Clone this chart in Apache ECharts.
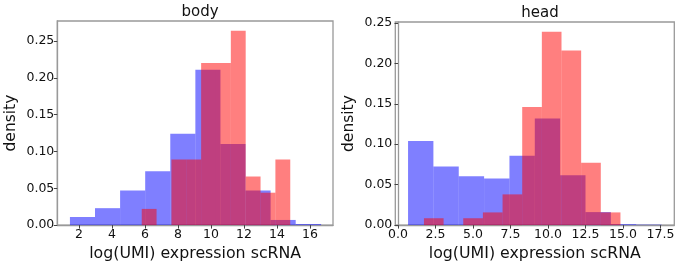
<!DOCTYPE html>
<html>
<head>
<meta charset="utf-8">
<script src="https://cdn.jsdelivr.net/npm/echarts@6/dist/echarts.min.js"></script>
<style>
    html, body { margin: 0; padding: 0; background: #fff; }
    #chart { width: 687px; height: 267px; }
</style>
</head>
<body>
<div id="chart"></div>
<script>
// Histogram bins (edges + density per bin)
const bodyBlueEdges = [1.45, 2.97, 4.49, 6.01, 7.53, 9.05, 10.57, 12.09, 13.61, 15.13, 16.67];
const bodyBlueDensity = [0.011, 0.023, 0.047, 0.073, 0.124, 0.211, 0.110, 0.047, 0.007, 0.0015];
const bodyRedEdges = [5.8, 6.7, 7.6, 8.5, 9.4, 10.3, 11.2, 12.1, 13.0, 13.9, 14.8];
const bodyRedDensity = [0.022, 0, 0.089, 0.089, 0.220, 0.220, 0.264, 0.066, 0.044, 0.089];

const headBlueEdges = [0.67, 2.36, 4.05, 5.74, 7.43, 9.12, 10.81, 12.5, 14.19, 15.88, 17.57];
const headBlueDensity = [0.104, 0.0726, 0.0605, 0.0577, 0.0859, 0.132, 0.0617, 0.0161, 0.0012, 0.0006];
const headRedEdges = [1.73, 3.04, 4.35, 5.66, 6.97, 8.28, 9.59, 10.9, 12.21, 13.52, 14.83];
const headRedDensity = [0.0085, 0, 0.0085, 0.0157, 0.038, 0.146, 0.239, 0.216, 0.077, 0.0157];

// Tick labels
const bodyXTicks = [2, 4, 6, 8, 10, 12, 14, 16];
const headXTicks = [0, 2.5, 5, 7.5, 10, 12.5, 15, 17.5];
const yTicks = [0, 0.05, 0.10, 0.15, 0.20, 0.25];

const titles = ['body', 'head'];
const xName = 'log(UMI) expression scRNA';
const yName = 'density';

const font = 'DejaVu Sans';
const blue = 'rgba(0, 0, 255, 0.5)';
const red = 'rgba(255, 0, 0, 0.5)';

const chart = echarts.init(document.getElementById('chart'), null, { renderer: 'canvas' });

function toBins(edges, density) {
    return density.map((d, i) => [edges[i], edges[i + 1], d]);
}

function renderBin(params, api) {
    const topLeft = api.coord([api.value(0), api.value(2)]);
    const bottomRight = api.coord([api.value(1), 0]);
    return {
        type: 'rect',
        shape: {
            x: topLeft[0],
            y: topLeft[1],
            width: bottomRight[0] - topLeft[0],
            height: bottomRight[1] - topLeft[1]
        },
        style: api.style()
    };
}

function xAxis(gridIndex, min, max, ticks, digits) {
    return {
        type: 'value',
        gridIndex: gridIndex,
        min: min,
        max: max,
        name: xName,
        nameLocation: 'middle',
        nameGap: 20,
        nameTextStyle: { fontFamily: font, fontSize: 15.8, color: '#111' },
        splitLine: { show: false },
        axisLine: { show: true, onZero: false, lineStyle: { color: '#999', width: 1.3 } },
        axisTick: { show: true, length: 3.5, customValues: ticks, lineStyle: { color: '#444' } },
        axisLabel: {
            customValues: ticks,
            margin: 3,
            fontFamily: font,
            fontSize: 12.5,
            color: '#111',
            formatter: (v) => v.toFixed(digits)
        }
    };
}

function yAxis(gridIndex, max) {
    return {
        type: 'value',
        gridIndex: gridIndex,
        min: 0,
        max: max,
        name: yName,
        nameLocation: 'middle',
        nameRotate: 90,
        nameGap: 38,
        nameTextStyle: { fontFamily: font, fontSize: 15.5, color: '#111' },
        splitLine: { show: false },
        axisLine: { show: true, lineStyle: { color: '#999', width: 1.3 } },
        axisTick: { show: true, length: 3.5, customValues: yTicks, lineStyle: { color: '#444' } },
        axisLabel: {
            customValues: yTicks,
            margin: 3,
            fontFamily: font,
            fontSize: 12.5,
            color: '#111',
            formatter: (v) => v.toFixed(2)
        }
    };
}

const option = {
    animation: false,
    backgroundColor: '#fff',
    title: [
        { text: titles[0], left: 195, top: 0, textAlign: 'center', textStyle: { fontFamily: font, fontSize: 15, fontWeight: 'normal', color: '#111' } },
        { text: titles[1], left: 535, top: 1, textAlign: 'center', textStyle: { fontFamily: font, fontSize: 15, fontWeight: 'normal', color: '#111' } }
    ],
    grid: [
        { left: 57.3, top: 21, width: 275.7, height: 207.5, show: true, borderColor: '#999', borderWidth: 1.3, backgroundColor: 'transparent' },
        { left: 395.3, top: 22, width: 279, height: 206.5, show: true, borderColor: '#999', borderWidth: 1.3, backgroundColor: 'transparent' }
    ],
    xAxis: [
        xAxis(0, 0.685, 17.39, bodyXTicks, 0),
        xAxis(1, -0.18, 18.42, headXTicks, 1)
    ],
    yAxis: [
        yAxis(0, 0.2772),
        yAxis(1, 0.2512)
    ],
    series: [
        { type: 'custom', xAxisIndex: 0, yAxisIndex: 0, renderItem: renderBin, itemStyle: { color: blue }, encode: { x: [0, 1], y: 2 }, data: toBins(bodyBlueEdges, bodyBlueDensity) },
        { type: 'custom', xAxisIndex: 0, yAxisIndex: 0, renderItem: renderBin, itemStyle: { color: red }, encode: { x: [0, 1], y: 2 }, data: toBins(bodyRedEdges, bodyRedDensity) },
        { type: 'custom', xAxisIndex: 1, yAxisIndex: 1, renderItem: renderBin, itemStyle: { color: blue }, encode: { x: [0, 1], y: 2 }, data: toBins(headBlueEdges, headBlueDensity) },
        { type: 'custom', xAxisIndex: 1, yAxisIndex: 1, renderItem: renderBin, itemStyle: { color: red }, encode: { x: [0, 1], y: 2 }, data: toBins(headRedEdges, headRedDensity) }
    ]
};

chart.setOption(option);
</script>
</body>
</html>
